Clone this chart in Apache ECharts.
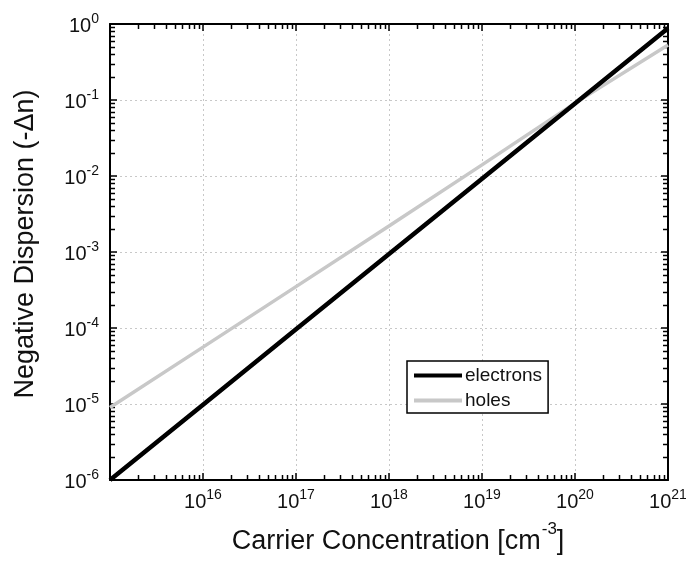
<!DOCTYPE html>
<html>
<head>
<meta charset="utf-8">
<script src="https://cdn.jsdelivr.net/npm/echarts@6/dist/echarts.min.js"></script>
<style>
html,body{margin:0;padding:0;background:#fff;}
#chart{width:686px;height:573px;}
</style>
</head>
<body>
<div id="chart"></div>
<script>
// Data (log-log straight lines)
const carrierConc = [1e15, 1e16, 1e17, 1e18, 1e19, 1e20, 1e21];
const electrons   = [1.0e-6, 9.8e-6, 9.6e-5, 9.4e-4, 9.2e-3, 0.090, 0.88];
const holes       = [9.0e-6, 5.6e-5, 3.5e-4, 2.2e-3, 1.4e-2, 0.091, 0.53];
const seriesNames = ['electrons', 'holes'];
const xTitle = ['Carrier Concentration [cm', '-3', ']'];
const yTitle = 'Negative Dispersion (-\u0394n)';
const xDecades = [15, 16, 17, 18, 19, 20];     // decades carrying minor ticks
const yDecades = [-6, -5, -4, -3, -2, -1];
const minorMult = [2, 3, 4, 5, 6, 7, 8, 9];

const FONT = "'Liberation Sans', Arial, Helvetica, sans-serif";
const pair = (xs, ys) => xs.map((x, i) => [x, ys[i]]);
const expOf = v => Math.round(Math.log10(v));
const minorVals = decs => decs.flatMap(d => minorMult.map(m => m * Math.pow(10, d)));

const chart = echarts.init(document.getElementById('chart'));

const richTick = {
  b: {fontSize: 20, fontFamily: FONT, color: '#111', verticalAlign: 'bottom'},
  s: {fontSize: 14, fontFamily: FONT, color: '#111', verticalAlign: 'bottom', padding: [0, 0, 10, 0]}
};

function axisCommon(showSplit) {
  return {
    axisLine: {show: true, onZero: false, lineStyle: {color: '#000', width: 2}},
    axisTick: {show: true, inside: true, length: 7, lineStyle: {color: '#000', width: 1.5}},
    minorTick: {show: false},
    splitLine: {show: showSplit, lineStyle: {color: '#c8c8c8', type: [2, 3], width: 1}},
    minorSplitLine: {show: false}
  };
}

const option = {
  animation: false,
  backgroundColor: '#fff',
  grid: {left: 110, right: 18, top: 24, bottom: 93, containLabel: false, outerBoundsMode: 'none'},
  xAxis: [
    Object.assign({
      type: 'log', logBase: 10, min: 1e15, max: 1e21, position: 'bottom',
      axisLabel: {
        margin: 8, rich: richTick,
        formatter: v => { const e = expOf(v); return e === 15 ? '' : '{b|10}{s|' + e + '}'; }
      }
    }, axisCommon(true)),
    Object.assign({
      type: 'log', logBase: 10, min: 1e15, max: 1e21, position: 'top',
      axisLabel: {show: false}
    }, axisCommon(false))
  ],
  yAxis: [
    Object.assign({
      type: 'log', logBase: 10, min: 1e-6, max: 1, position: 'left',
      axisLabel: {
        margin: 11, rich: richTick,
        formatter: v => '{b|10}{s|' + expOf(v) + '}'
      }
    }, axisCommon(true)),
    Object.assign({
      type: 'log', logBase: 10, min: 1e-6, max: 1, position: 'right',
      axisLabel: {show: false}
    }, axisCommon(false))
  ],
  legend: {
    data: [
      {name: seriesNames[0], icon: 'rect', itemStyle: {color: '#000'}},
      {name: seriesNames[1], icon: 'rect', itemStyle: {color: '#c8c8c8'}}
    ],
    orient: 'vertical',
    left: 407, top: 361,
    itemWidth: 48, itemHeight: 4, itemGap: 4,
    padding: [4, 6, 2, 7],
    borderColor: '#000', borderWidth: 1.5, borderRadius: 0,
    backgroundColor: '#fff',
    textStyle: {fontSize: 19, fontFamily: FONT, color: '#111', padding: [0, 0, 0, -2], lineHeight: 21}
  },
  series: [
    {
      name: seriesNames[0], type: 'line', xAxisIndex: 0, yAxisIndex: 0,
      data: pair(carrierConc, electrons), showSymbol: false, symbol: 'none',
      lineStyle: {color: '#000', width: 4.5}, itemStyle: {color: '#000'}, z: 3
    },
    {
      name: seriesNames[1], type: 'line', xAxisIndex: 0, yAxisIndex: 0,
      data: pair(carrierConc, holes), showSymbol: false, symbol: 'none',
      lineStyle: {color: '#c8c8c8', width: 3.5}, itemStyle: {color: '#c8c8c8'}, z: 2
    }
  ]
};
chart.setOption(option);

const titles = [
  {
    type: 'text', x: 398, y: 555,
    style: {
      text: '{a|' + xTitle[0] + '}{s|' + xTitle[1] + '}{a|' + xTitle[2] + '}',
      align: 'center', verticalAlign: 'bottom',
      rich: {
        a: {fontSize: 27, fontFamily: FONT, fill: '#111', verticalAlign: 'bottom'},
        s: {fontSize: 17, fontFamily: FONT, fill: '#111', verticalAlign: 'bottom', padding: [0, 0, 17, 1]}
      }
    }
  },
  {
    type: 'text', x: 26, y: 244, rotation: Math.PI / 2,
    style: {
      text: yTitle, align: 'center', verticalAlign: 'middle',
      fontSize: 27, fontFamily: FONT, fill: '#111'
    }
  }
];

// Minor ticks (2..9 per decade) on all four sides, positioned through the axis scales
const MINOR_LEN = 5;
const ticks = [];
const x0 = chart.convertToPixel({xAxisIndex: 0}, 1e15);
const x1 = chart.convertToPixel({xAxisIndex: 0}, 1e21);
const yB = chart.convertToPixel({yAxisIndex: 0}, 1e-6);
const yT = chart.convertToPixel({yAxisIndex: 0}, 1);
const tick = (ax, ay, bx, by) => ({type: 'line',
  shape: {x1: ax, y1: ay, x2: bx, y2: by}, style: {stroke: '#000', lineWidth: 1.5}});
minorVals(xDecades).forEach(v => {
  const px = Math.round(chart.convertToPixel({xAxisIndex: 0}, v)) + 0.5;
  ticks.push(tick(px, yB, px, yB - MINOR_LEN), tick(px, yT, px, yT + MINOR_LEN));
});
minorVals(yDecades).forEach(v => {
  const py = Math.round(chart.convertToPixel({yAxisIndex: 0}, v)) + 0.5;
  ticks.push(tick(x0, py, x0 + MINOR_LEN, py), tick(x1, py, x1 - MINOR_LEN, py));
});
chart.setOption({graphic: titles.concat(ticks)});
</script>
</body>
</html>
